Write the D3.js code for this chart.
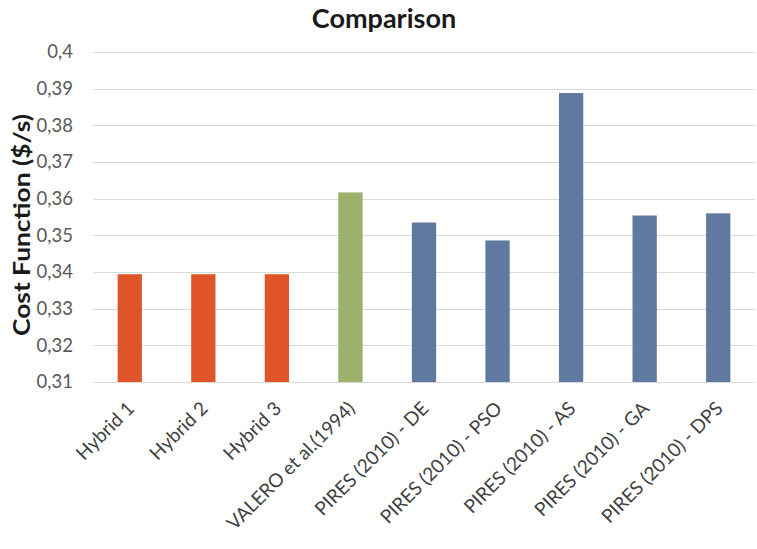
<!DOCTYPE html>
<html>
<head>
<meta charset="utf-8">
<script src="https://cdn.jsdelivr.net/npm/d3@7"></script>
<style>
  html, body { margin: 0; padding: 0; background: #fff; }
  svg { display: block; }
  text { font-family: Lato, "Open Sans", sans-serif; }
</style>
</head>
<body>
<svg id="chart" width="757" height="549"></svg>
<script>
// Cost function comparison between methods
const categories = [
  "Hybrid 1", "Hybrid 2", "Hybrid 3", "VALERO et al.(1994)",
  "PIRES (2010) - DE", "PIRES (2010) - PSO", "PIRES (2010) - AS",
  "PIRES (2010) - GA", "PIRES (2010) - DPS"
];
const costValues = [0.3394, 0.3394, 0.3394, 0.3617, 0.3535, 0.3486, 0.3888, 0.3554, 0.3560];
const groups = ["hybrid", "hybrid", "hybrid", "valero", "pires", "pires", "pires", "pires", "pires"];
const yTicks = [0.31, 0.32, 0.33, 0.34, 0.35, 0.36, 0.37, 0.38, 0.39, 0.4];

const groupColor = { hybrid: "#e0542a", valero: "#9bb06a", pires: "#5f79a0" };

const svg = d3.select("#chart");
const margin = { top: 52, right: 2, bottom: 167, left: 93 };
const W = 757, H = 549;

const x = d3.scaleBand()
  .domain(categories)
  .range([margin.left, W - margin.right])
  .paddingInner(0.67)
  .paddingOuter(0.335);

const y = d3.scaleLinear()
  .domain([0.31, 0.4])
  .range([H - margin.bottom, margin.top]);

const fmt = v => d3.format(".2~f")(v).replace(".", ",");

// horizontal gridlines
svg.append("g")
  .selectAll("line")
  .data(yTicks)
  .join("line")
  .attr("x1", margin.left)
  .attr("x2", W - margin.right)
  .attr("y1", d => Math.round(y(d)) + 0.5)
  .attr("y2", d => Math.round(y(d)) + 0.5)
  .attr("stroke", "#d9d9d9")
  .attr("stroke-width", 1);

// y axis labels
const yAxis = d3.axisLeft(y).tickValues(yTicks).tickFormat(fmt).tickSize(0).tickPadding(0);
const gy = svg.append("g")
  .attr("transform", `translate(${margin.left - 20},0)`)
  .call(yAxis);
gy.select(".domain").remove();
gy.selectAll("text")
  .attr("font-size", 18.5)
  .attr("fill", "#595959")
  .attr("font-family", "Lato, 'Open Sans', sans-serif");

// bars
svg.append("g")
  .selectAll("rect")
  .data(categories)
  .join("rect")
  .attr("x", d => x(d))
  .attr("width", x.bandwidth())
  .attr("y", (d, i) => y(costValues[i]))
  .attr("height", (d, i) => y(0.31) - y(costValues[i]))
  .attr("fill", (d, i) => groupColor[groups[i]]);

// x axis labels, rotated
const xAxis = d3.axisBottom(x).tickSize(0).tickPadding(0);
const gx = svg.append("g")
  .attr("transform", `translate(0,${H - margin.bottom})`)
  .call(xAxis);
gx.select(".domain").remove();
gx.selectAll("text")
  .attr("font-size", 19)
  .attr("fill", "#404040")
  .attr("font-family", "Lato, 'Open Sans', sans-serif")
  .attr("text-anchor", "end")
  .attr("dy", "0.35em")
  .attr("transform", "translate(1,23) rotate(-45)");

// title
svg.append("text")
  .attr("x", 384)
  .attr("y", 28)
  .attr("text-anchor", "middle")
  .attr("font-size", 27)
  .attr("font-weight", "bold")
  .attr("fill", "#1a1a1a")
  .text("Comparison");

// y axis title
svg.append("text")
  .attr("transform", `translate(30,225) rotate(-90)`)
  .attr("text-anchor", "middle")
  .attr("font-size", 23)
  .attr("font-weight", "bold")
  .attr("fill", "#1a1a1a")
  .attr("textLength", 222)
  .attr("lengthAdjust", "spacingAndGlyphs")
  .text("Cost Function ($/s)");
</script>
</body>
</html>
